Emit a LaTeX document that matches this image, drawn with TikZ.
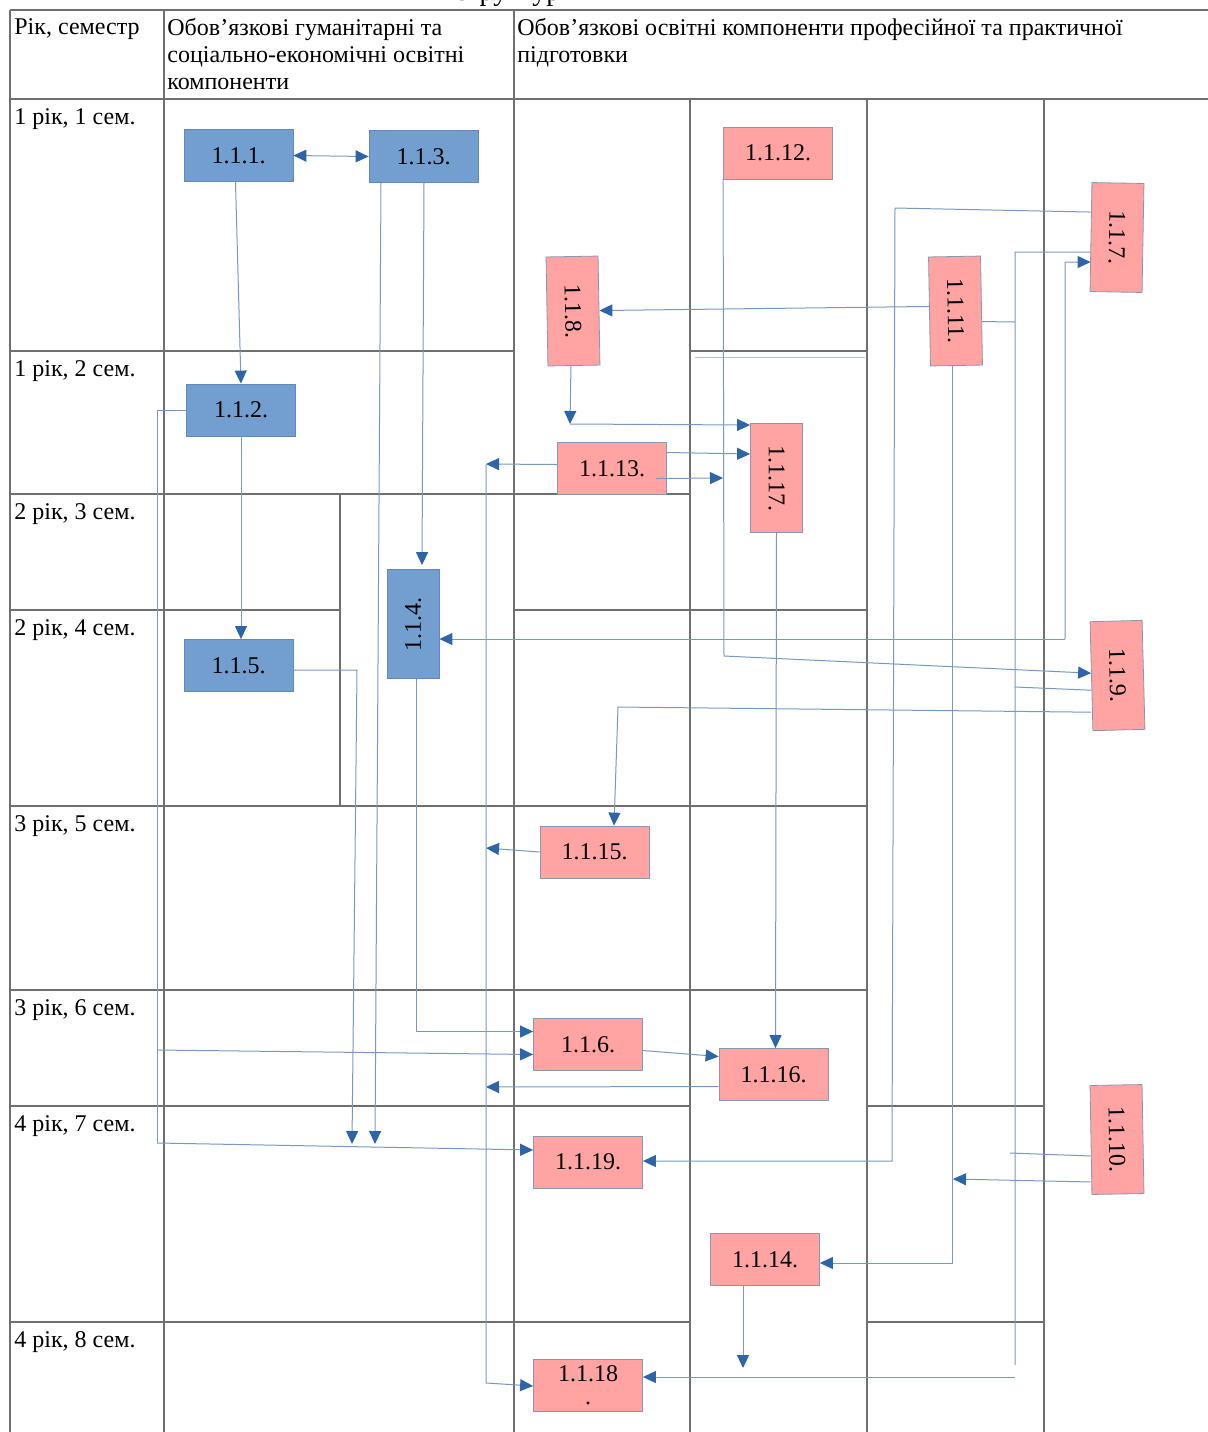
\documentclass[tikz,border=0pt]{standalone}
\usepackage{fontspec}
\setmainfont{Liberation Serif}
\usetikzlibrary{arrows.meta,calc}

\definecolor{gridgray}{RGB}{112,112,112}
\definecolor{boxblue}{RGB}{114,159,207}
\definecolor{blueedge}{RGB}{96,138,190}
\definecolor{boxpink}{RGB}{255,163,163}
\definecolor{pinkedge}{RGB}{140,150,175}
\definecolor{linkblue}{RGB}{118,152,194}
\definecolor{tipblue}{RGB}{46,101,168}

\begin{document}
\begin{tikzpicture}[x=0.5pt,y=0.5pt,yscale=-1,xscale=1,
  font=\fontsize{12}{13.5}\selectfont,
  gridline/.style={draw=gridgray,line width=0.7pt},
  bluebox/.style={draw=blueedge,fill=boxblue,line width=0.4pt,minimum width=54.5pt,minimum height=26pt,inner sep=0pt},
  pinkbox/.style={draw=pinkedge,fill=boxpink,line width=0.4pt,minimum width=54.5pt,minimum height=26pt,inner sep=0pt},
  linkline/.style={draw=linkblue,line width=0.5pt},
  >={Triangle[length=6.5pt,width=6pt,color=tipblue,fill=tipblue]}]
\useasboundingbox (0,0) rectangle (1208,1432);

% caption, cut by the page edge
\node[anchor=base,inner sep=0pt,font=\fontsize{14}{16}\selectfont] (caption) at (515,0) {структури};

%Table frame
\draw[gridline] (10,10) -- (1208,10);
\draw[gridline] (10,99) -- (1208,99);
\draw[gridline] (10,10) -- (10,1432);
\draw[gridline] (164,10) -- (164,1432);
\draw[gridline] (514,10) -- (514,1432);
\draw[gridline] (690,99) -- (690,1432);
\draw[gridline] (867,99) -- (867,1432);
\draw[gridline] (1044,99) -- (1044,1432);
\draw[gridline] (340,494) -- (340,806);
%Row lines
\draw[gridline] (10,351) -- (514,351);
\draw[gridline] (690,351) -- (867,351);
\draw[draw=linkblue!60,line width=0.5pt] (695,357) -- (865,357);
\draw[gridline] (10,494) -- (690,494);
\draw[gridline] (10,610) -- (340,610);
\draw[gridline] (514,610) -- (867,610);
\draw[gridline] (10,806) -- (867,806);
\draw[gridline] (10,990) -- (867,990);
\draw[gridline] (10,1106) -- (690,1106);
\draw[gridline] (867,1106) -- (1044,1106);
\draw[gridline] (10,1322) -- (690,1322);
\draw[gridline] (867,1322) -- (1044,1322);

% Text Node
\node[anchor=base west,inner sep=0pt] (headsem) at (14,34) {Рік, семестр};
% Text Node
\node[anchor=north west,inner sep=0pt,align=left] (headhum) at (167,18) {Обов’язкові гуманітарні та\\соціально-економічні освітні\\компоненти};
% Text Node
\node[anchor=north west,inner sep=0pt,align=left] (headprof) at (517,18) {Обов’язкові освітні компоненти професійної та практичної\\підготовки};

% Text Node
\node[anchor=base west,inner sep=0pt] (sem1) at (14,124) {1 рік, 1 сем.};
\node[anchor=base west,inner sep=0pt] (sem2) at (14,376) {1 рік, 2 сем.};
\node[anchor=base west,inner sep=0pt] (sem3) at (14,519) {2 рік, 3 сем.};
\node[anchor=base west,inner sep=0pt] (sem4) at (14,635) {2 рік, 4 сем.};
\node[anchor=base west,inner sep=0pt] (sem5) at (14,831) {3 рік, 5 сем.};
\node[anchor=base west,inner sep=0pt] (sem6) at (14,1015) {3 рік, 6 сем.};
\node[anchor=base west,inner sep=0pt] (sem7) at (14,1131) {4 рік, 7 сем.};
\node[anchor=base west,inner sep=0pt] (sem8) at (14,1347) {4 рік, 8 сем.};

%Blue boxes
\node[bluebox] (b111) at (238.5,155.5) {1.1.1.};
\node[bluebox] (b113) at (423.5,156.5) {1.1.3.};
\node[bluebox] (b112) at (241,410) {1.1.2.};
\node[bluebox] (b115) at (238.5,665.5) {1.1.5.};
\node[bluebox,rotate=90] (b114) at (413,624) {1.1.4.};

%Pink boxes
\node[pinkbox] (p1112) at (778,153) {1.1.12.};
\node[pinkbox,rotate=-89] (p118) at (573,311) {1.1.8.};
\node[pinkbox,rotate=-89] (p1111) at (955.5,311) {1.1.11.};
\node[pinkbox,rotate=-91] (p117) at (1117,237.5) {1.1.7.};
\node[pinkbox] (p1113) at (612,468.5) {1.1.13.};
\node[pinkbox,rotate=-90] (p1117) at (776.5,478) {1.1.17.};
\node[pinkbox,rotate=-88.5] (p119) at (1117.5,675.5) {1.1.9.};
\node[pinkbox] (p1115) at (594.5,852) {1.1.15.};
\node[pinkbox] (p116) at (588,1044.5) {1.1.6.};
\node[pinkbox] (p1116) at (773.5,1074.5) {1.1.16.};
\node[pinkbox] (p1119) at (588,1162) {1.1.19.};
\node[pinkbox,rotate=-89] (p1110) at (1117,1139.5) {1.1.10.};
\node[pinkbox] (p1114) at (765,1259.5) {1.1.14.};
\node[pinkbox,align=center,font=\fontsize{12}{11.5}\selectfont] (p1118) at (588,1385) {1.1.18\\.};

%Free ends of the connectors
\coordinate (dropa) at (352,1144);
\coordinate (dropb) at (375,1144);
\coordinate (lbusa) at (157,1050);
\coordinate (lbusb) at (157,1143);
\coordinate (cbustop) at (486,464);
\coordinate (cbusbot) at (486,1383);
\coordinate (cbus15) at (486,848);
\coordinate (cbus16) at (486,1087);
\coordinate (rbustop) at (1015,252);
\coordinate (rbusbot) at (1015,1365);
\coordinate (ebus) at (1065,639);
\coordinate (tbus) at (953,1179);
\coordinate (turn18) at (570,424);
\coordinate (drop14) at (743,1368);

%Straight Lines, humanities
\draw[linkline,<->] (b111.east) -- (b113.west);
\draw[linkline,->] ($(b111.south)+(-3,0)$) -- (b112.north);
\draw[linkline,->] (b112.south) -- ($(b115.north)+(2.5,0)$);
\draw[linkline,->] ($(b113.south)+(0.5,0)$) -- ($(b114.east)+(9,-4)$);
\draw[linkline,->] ($(b113.south)+(-42.5,0)$) -- (dropb);
\draw[linkline,->] ($(b115.east)+(0,4.5)$) -- (357,670) -- (dropa);
\draw[linkline] (b112.west) -| (lbusb);
\draw[linkline,->] (lbusb) -- ($(p1119.west)+(0,-12)$);
\draw[linkline,->] (lbusa) -- ($(p116.west)+(0,10)$);
\draw[linkline,->] ($(b114.west)+(3,0)$) |- ($(p116.west)+(0,-13)$);

%Straight Lines, professional
\draw[linkline,->] ($(p116.east)+(0,6)$) -- ($(p1116.west)+(0,-18)$);
\draw[linkline,->] (p1117.east) -- ($(p1116.north)+(2,0)$);
\draw[linkline,->] ($(p1116.west)+(0,12)$) -- (cbus16);
\draw[linkline,->] (p1115.west) -- (cbus15);
\draw[linkline,->] ($(p1113.west)+(0,-4)$) -- (cbustop);
\draw[linkline,->] (cbustop) -- (cbusbot) -- ($(p1118.west)+(0,1)$);
\draw[linkline,->] ($(p119.south)+(0,36)$) -- (618,707) -- ($(p1115.north)+(19.5,0)$);
\draw[linkline,->] (p1112.south west) -- (724,656) -- ($(p119.south)+(0,-3)$);
\draw[linkline] ($(p117.south)+(0,15)$) -- (rbustop) -- (rbusbot);
\draw[linkline] ($(p1111.north)+(0,11)$) -- (1015,322);
\draw[linkline] ($(p119.south)+(0,14)$) -- (1015,687);
\draw[linkline] ($(p1110.south)+(0,16)$) -- (1010,1153);
\draw[linkline,->] (1015,1377) -- ($(p1118.east)+(0,-8)$);
\draw[linkline,->] ($(p117.south)+(0,-25)$) -- (895,208) -- (892,1161) -- ($(p1119.east)+(0,-1)$);
\draw[linkline,->] ($(p1111.south)+(0,-5)$) -- (p118.north);
\draw[linkline,->] ($(p1111.east)+(-4,0)$) |- ($(p1114.east)+(0,3.5)$);
\draw[linkline,->] ($(p1110.south)+(0,42)$) -- (tbus);
\draw[linkline,->] ($(p118.east)+(-3,0)$) -- (turn18);
\draw[linkline,->] (turn18) -- ($(p1117.south)+(0,-53)$);
\draw[linkline,->] ($(p1113.east)+(0,-16)$) -- ($(p1117.south)+(0,-24)$);
\draw[linkline,->] ($(p1113.east)+(-11,10)$) -- (723,478);
\draw[linkline,->] (ebus) -- ($(b114.south)+(0,15)$);
\draw[linkline,->] (ebus) -- (1065,262) -- ($(p117.south)+(0,25)$);
\draw[linkline,->] ($(p1114.south)+(-22,0)$) -- (drop14);

\end{tikzpicture}
\end{document}
